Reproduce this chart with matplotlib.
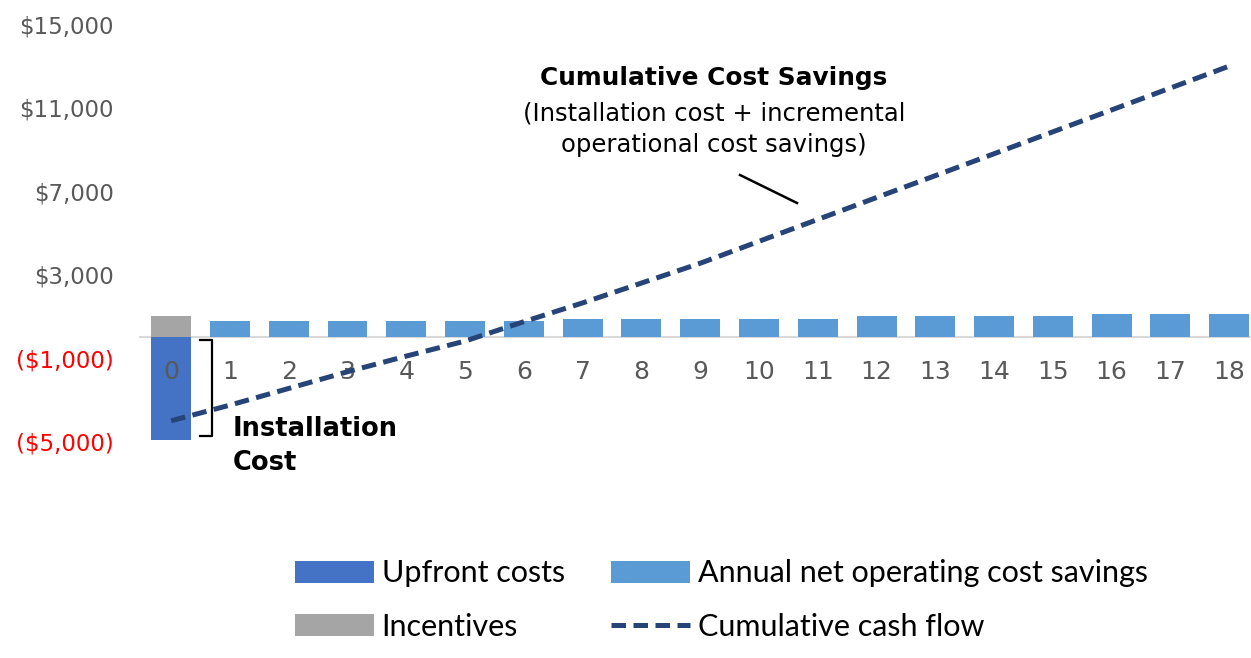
import matplotlib
matplotlib.use("Agg")
import matplotlib.pyplot as plt
import numpy as np

# values
years = list(range(19))
upfront = [-4900] + [0] * 18
incentives = [1000] + [0] * 18
annual = [0, 770, 770, 770, 770, 770, 770, 870, 870, 870, 870, 870,
          1025, 1025, 1025, 1025, 1105, 1105, 1105]
cumulative = [-4000, -3250, -2450, -1650, -900, -180, 750, 1650, 2600,
              3550, 4600, 5650, 6700, 7750, 8800, 9850, 10900, 11950, 13000]
ytick_vals = [15000, 11000, 7000, 3000, -1000, -5000]

c_upfront = "#4472C4"
c_annual = "#5B9BD5"
c_incent = "#A5A5A5"
c_line = "#264478"
c_tick = "#595959"
annot_font = "DejaVu Sans"
legend_font = "Lato"

W, H = 1251, 658
fig = plt.figure(figsize=(W / 100, H / 100), dpi=100)

def fx(x):
    return x / W

def fy(y):
    return 1 - y / H

ax = fig.add_axes([fx(140), fy(462.5), 1 - fx(140), fy(3.5) - fy(462.5)])

x = np.array(years)
bw = 0.68
b_up = ax.bar(x, upfront, width=bw, color=c_upfront, zorder=1)
b_in = ax.bar(x, incentives, width=bw, color=c_incent, zorder=1)
b_an = ax.bar(x, annual, width=bw, color=c_annual, zorder=1)
ln, = ax.plot(x, cumulative, color=c_line, lw=3.6, linestyle=(0, (2.9, 1.5)), zorder=3)

ax.set_xlim(-0.53, 18.37)
ax.set_ylim(-6000, 16000)

for s in ["top", "right", "left"]:
    ax.spines[s].set_visible(False)
ax.spines["bottom"].set_position(("data", 0))
ax.spines["bottom"].set_color("#D9D9D9")
ax.spines["bottom"].set_linewidth(1.5)
ax.spines["bottom"].set_zorder(0.5)

ax.set_xticks(x)
ax.set_xticklabels([str(v) for v in years])
ax.tick_params(axis="x", length=0, pad=16, labelsize=18, labelcolor=c_tick)

def fmt(v):
    return "${:,}".format(v) if v >= 0 else "(${:,})".format(-v)

ax.set_yticks(ytick_vals)
ax.set_yticklabels([fmt(v) for v in ytick_vals])
ax.tick_params(axis="y", length=0, pad=19, labelsize=16.5)
for lab, v in zip(ax.get_yticklabels(), ytick_vals):
    lab.set_color("#FF0000" if v < 0 else c_tick)

# bracket next to the installation bar
bx0, bx1 = 0.49, 0.69
ax.plot([bx0, bx1, bx1, bx0], [-120, -120, upfront[0] * 0.97, upfront[0] * 0.97],
        color="black", lw=1.6, zorder=4)

fig.text(fx(233), fy(429), "Installation", fontsize=18.5, fontweight="bold",
         family=annot_font, ha="left", va="center")
fig.text(fx(233), fy(463), "Cost", fontsize=18.5, fontweight="bold",
         family=annot_font, ha="left", va="center")

fig.text(fx(714), fy(78), "Cumulative Cost Savings", fontsize=17.8, fontweight="bold",
         family=annot_font, ha="center", va="center")
fig.text(fx(714), fy(113), "(Installation cost + incremental", fontsize=17.5,
         family=annot_font, ha="center", va="center")
fig.text(fx(714), fy(145), "operational cost savings)", fontsize=17.5,
         family=annot_font, ha="center", va="center")
fig.add_artist(plt.Line2D([fx(740), fx(797)], [fy(175), fy(203)],
                          transform=fig.transFigure, color="black", lw=1.8))

fig.legend([b_up, b_in, b_an, ln],
           ["Upfront costs", "Incentives", "Annual net operating cost savings",
            "Cumulative cash flow"],
           ncol=2, loc="center left", bbox_to_anchor=(fx(267), fy(600)),
           frameon=False, handlelength=2.6, handleheight=0.75,
           handletextpad=0.25, columnspacing=1.5, labelspacing=0.82,
           prop={"family": legend_font, "size": 22})

fig.savefig("out.png", dpi=100)
